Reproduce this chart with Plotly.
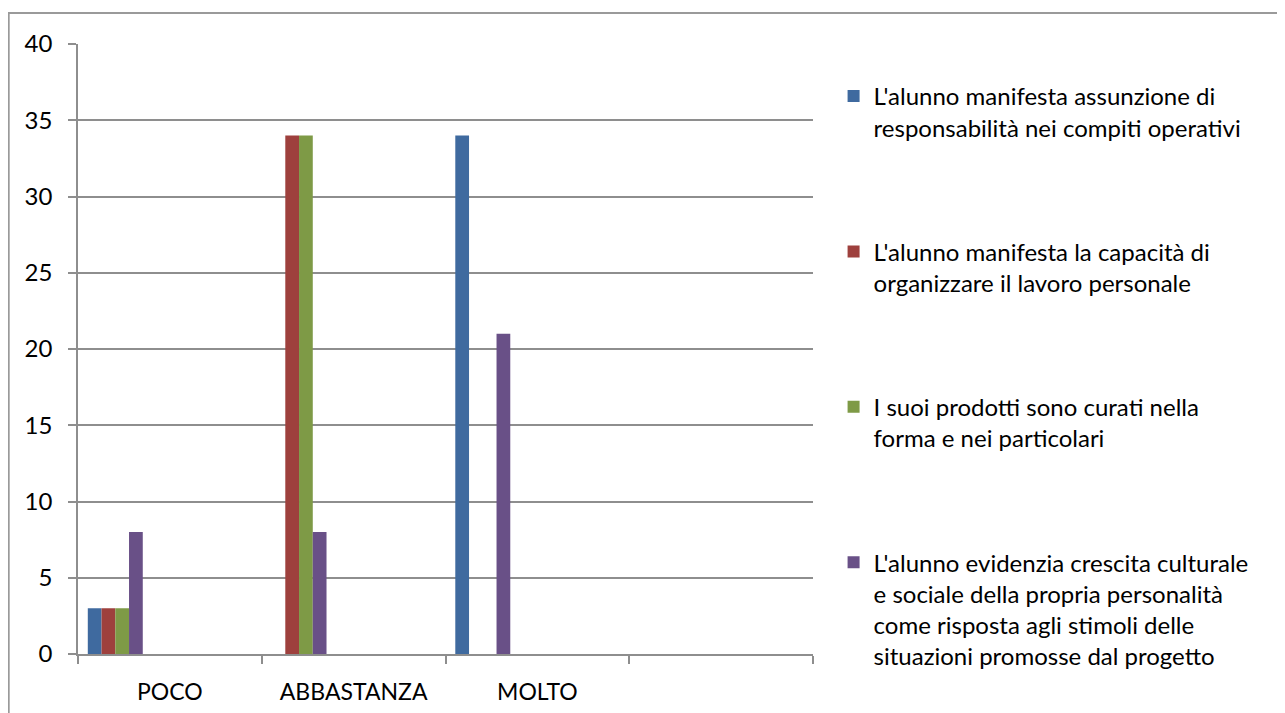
import plotly.graph_objects as go

categories = ["POCO", "ABBASTANZA", "MOLTO"]
axis_slots = ["POCO", "ABBASTANZA", "MOLTO", " "]

series_names = [
    "L'alunno manifesta assunzione di<br>responsabilità nei compiti operativi",
    "L'alunno manifesta la capacità di<br>organizzare il lavoro personale",
    "I suoi prodotti sono curati nella<br>forma e nei particolari",
    "L'alunno evidenzia crescita culturale<br>e sociale della propria personalità<br>come risposta agli stimoli delle<br>situazioni promosse dal progetto",
]
series_values = [
    [3, 0, 34],
    [3, 34, 0],
    [3, 34, 0],
    [8, 8, 21],
]
colors = ["#3F6A9F", "#9E403D", "#7E9A46", "#695087"]

FONT = "Lato"
bar_w = 0.0748
start = -0.4467

fig = go.Figure()
for i, (name, vals, col) in enumerate(zip(series_names, series_values, colors)):
    fig.add_trace(go.Bar(
        x=categories, y=vals, name=name,
        marker=dict(color=col, line=dict(width=0)),
        width=bar_w, offset=start + i * bar_w,
        legendgroup="g%d" % i,
    ))

fig.update_layout(
    width=1277, height=705,
    margin=dict(l=70, r=472, t=36, b=58.5, autoexpand=False),
    paper_bgcolor="white", plot_bgcolor="white",
    font=dict(family=FONT, size=22, color="black"),
    barmode="overlay",
    xaxis=dict(
        type="category", categoryorder="array", categoryarray=axis_slots,
        range=[-0.5, 3.5], tickson="boundaries",
        ticks="outside", ticklen=8, tickcolor="#8E8E8E", tickwidth=1.5,
        showline=True, linecolor="#8E8E8E", linewidth=1.5,
        showgrid=False, ticklabelstandoff=17,
        tickfont=dict(family=FONT, size=23),
    ),
    yaxis=dict(
        range=[0, 40], dtick=5, tick0=0,
        ticks="outside", ticklen=8, tickcolor="#8E8E8E", tickwidth=1.5,
        showline=True, linecolor="#8E8E8E", linewidth=1.5,
        showgrid=True, gridcolor="#8E8E8E", gridwidth=1.5,
        zeroline=False, ticklabelstandoff=11,
        tickfont=dict(family=FONT, size=24),
    ),
    legend=dict(
        x=1.028, xanchor="left", y=0.951, yanchor="top",
        valign="top", tracegroupgap=90,
        font=dict(family=FONT, size=24),
        bgcolor="rgba(0,0,0,0)",
    ),
    shapes=[dict(
        type="rect", xref="paper", yref="paper",
        x0=-0.0943, x1=1.75, y0=-0.3, y1=1.0508,
        line=dict(color="#9A9A9A", width=2), layer="below",
    )],
)

fig.write_html("out.html")
